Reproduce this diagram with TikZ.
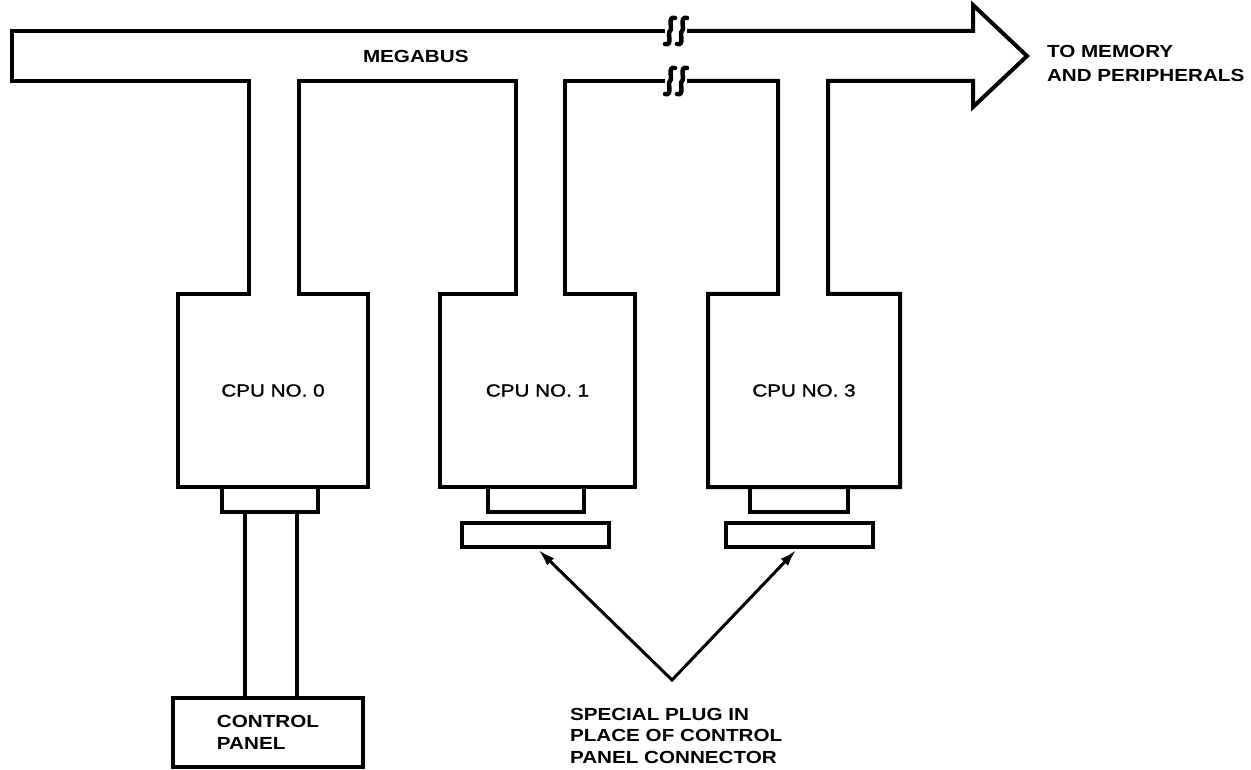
\documentclass[tikz,border=0pt]{standalone}
\usepackage{fontspec}
\setmainfont{Liberation Sans}[FakeStretch=1.18]
\newfontfamily\cpufont{Liberation Sans}[FakeStretch=1.18, FakeBold=1.2]
\usetikzlibrary{arrows.meta,positioning}

\begin{document}
\begin{tikzpicture}[x=1pt, y=-1pt, line width=4pt,
    lbl/.style={font=\fontsize{17.5}{21.5}\selectfont\bfseries, inner sep=0pt, outer sep=0pt, align=left},
    cpubox/.style={inner sep=0pt, outer sep=0pt, minimum height=193pt, font=\fontsize{17.5}{21.5}\cpufont},
    connbox/.style={draw, inner sep=0pt, outer sep=0pt, minimum width=96pt, minimum height=25pt},
    plugbox/.style={draw, inner sep=0pt, outer sep=0pt, minimum width=147pt, minimum height=24pt},
    ptr/.style={line width=3pt, {Latex[length=17pt,width=10pt]}-{Latex[length=17pt,width=10pt]}, shorten >=4pt, shorten <=4pt},
    busbreak/.pic={
      \foreach \dx in {-6,6}
        \draw[line width=4.5pt, line cap=round] (\dx+5,-13) .. controls (\dx-3,-15) and (\dx+3,-2) .. (\dx,0)
          .. controls (\dx-3,2) and (\dx+3,15) .. (\dx-5,13);
    }]
    \useasboundingbox (0,0) rectangle (1251,770);

    % CPUs
    \node[cpubox, minimum width=190pt] (cpu0) at (273,390.5) {CPU NO. 0};
    \node[cpubox, minimum width=195pt] (cpu1) at (537.5,390.5) {CPU NO. 1};
    \node[cpubox, minimum width=192pt] (cpu3) at (804,390.5) {CPU NO. 3};

    % Megabus with stubs down to the CPUs
    \draw (665,31) -- (12,31) -- (12,81) -- (249,81) -- (249,294) -- (cpu0.north west) -- (cpu0.south west)
      -- (cpu0.south east) -- (cpu0.north east) -- (299,294) -- (299,81) -- (516,81) -- (516,294)
      -- (cpu1.north west) -- (cpu1.south west) -- (cpu1.south east) -- (cpu1.north east) -- (565,294)
      -- (565,81) -- (665,81);
    \draw (687,81) -- (778,81) -- (778,294) -- (cpu3.north west) -- (cpu3.south west) -- (cpu3.south east)
      -- (cpu3.north east) -- (828,294) -- (828,81) -- (973,81) -- (973,107) -- (1027,56) -- (973,5)
      -- (973,31) -- (687,31);
    \pic at (676,31) {busbreak};
    \pic at (676,81) {busbreak};

    \node[lbl, anchor=north west] (bustxt) at (363,50) {MEGABUS};
    \node[lbl, anchor=north west, font=\fontsize{17.5}{24}\selectfont\bfseries] (memtxt) at (1047,45) {TO MEMORY\\AND PERIPHERALS};

    % Connectors and plugs
    \node[connbox, below=0pt of cpu0, xshift=-3pt] (conn0) {};
    \node[connbox, below=0pt of cpu1, xshift=-2pt] (conn1) {};
    \node[connbox, below=0pt of cpu3, xshift=-5pt, minimum width=98pt] (conn3) {};
    \node[plugbox, below=11pt of conn1] (plug1) {};
    \node[plugbox, below=11pt of conn3] (plug3) {};

    % Control panel and its cable
    \node[lbl, draw, minimum width=190pt, minimum height=69pt] (panel) at (268,732.5) {CONTROL\\PANEL};
    \draw ([xshift=-25pt]conn0.south) -- ([xshift=-25pt]conn0.south |- panel.north);
    \draw ([xshift=27pt]conn0.south) -- ([xshift=27pt]conn0.south |- panel.north);

    % Plug callout
    \coordinate (vtx) at (672,680);
    \draw[ptr] (plug1.south) -- (vtx) -- (plug3.south);
    \node[lbl, anchor=north west] (plugtxt) at (570,708) {SPECIAL PLUG IN\\PLACE OF CONTROL\\PANEL CONNECTOR};
\end{tikzpicture}
\end{document}
